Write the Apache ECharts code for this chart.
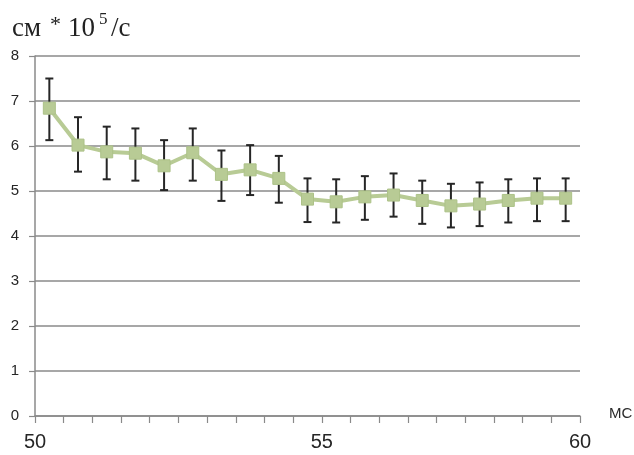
<!DOCTYPE html>
<html>
<head>
<meta charset="utf-8">
<script src="https://cdn.jsdelivr.net/npm/echarts@6/dist/echarts.min.js"></script>
<style>
  html, body { margin: 0; padding: 0; background: #ffffff; }
  #chart { width: 634px; height: 455px; }
</style>
</head>
<body>
<div id="chart"></div>
<script>
// Measurement points (one per time bin across 50–60 мс)
const pointIds = ['1','2','3','4','5','6','7','8','9','10','11','12','13','14','15','16','17','18','19'];
// Mean velocity, см·10^5/с
const meanValues = [6.84, 6.02, 5.87, 5.84, 5.56, 5.85, 5.37, 5.47, 5.28, 4.82, 4.76, 4.87, 4.91, 4.79, 4.67, 4.71, 4.79, 4.84, 4.84];
// Error bar bounds
const upperValues = [7.50, 6.64, 6.43, 6.39, 6.13, 6.39, 5.90, 6.02, 5.78, 5.28, 5.26, 5.33, 5.39, 5.23, 5.16, 5.19, 5.26, 5.28, 5.28];
const lowerValues = [6.13, 5.43, 5.26, 5.23, 5.02, 5.23, 4.78, 4.91, 4.74, 4.31, 4.30, 4.36, 4.43, 4.27, 4.19, 4.22, 4.30, 4.33, 4.33];
// Time labels on the tick boundaries (20 boundaries for 19 bins)
const xTickLabels = ['50','','','','','','','','','','55','','','','','','','','','60'];
const yTicks = [0, 1, 2, 3, 4, 5, 6, 7, 8];

const chart = echarts.init(document.getElementById('chart'));

const errorData = pointIds.map((id, i) => [i, lowerValues[i], upperValues[i]]);
const serif = 'Liberation Serif, DejaVu Serif, serif';

chart.setOption({
  animation: false,
  backgroundColor: '#ffffff',
  grid: { left: 35, right: 54, top: 56, bottom: 39 },
  xAxis: [
    {
      type: 'category',
      data: pointIds,
      boundaryGap: true,
      axisLine: { show: true, lineStyle: { color: '#8a8a8a', width: 1.5 } },
      axisTick: { show: true, interval: 0, length: 7, lineStyle: { color: '#8a8a8a', width: 1.2 } },
      axisLabel: { show: false },
      splitLine: { show: false }
    },
    {
      type: 'value',
      min: 0,
      max: xTickLabels.length - 1,
      interval: 1,
      position: 'bottom',
      axisLine: { show: false },
      axisTick: { show: false },
      splitLine: { show: false },
      axisLabel: {
        show: true,
        margin: 16,
        fontFamily: 'Liberation Sans, Arial, sans-serif',
        fontSize: 20,
        color: '#262626',
        showMinLabel: true,
        showMaxLabel: true,
        formatter: (v) => xTickLabels[Math.round(v)] || ''
      }
    }
  ],
  yAxis: {
    type: 'value',
    min: yTicks[0],
    max: yTicks[yTicks.length - 1],
    interval: 1,
    axisLine: { show: true, lineStyle: { color: '#8a8a8a', width: 1.5 } },
    axisTick: { show: true, length: 6, lineStyle: { color: '#8a8a8a', width: 1.2 } },
    axisLabel: {
      margin: 16,
      fontFamily: 'Liberation Sans, Arial, sans-serif',
      fontSize: 15,
      color: '#262626'
    },
    splitLine: { show: true, lineStyle: { color: '#8a8a8a', width: 1.5 } }
  },
  series: [
    {
      type: 'custom',
      xAxisIndex: 0,
      z: 2,
      data: errorData,
      encode: { x: 0, y: [1, 2] },
      renderItem: function (params, api) {
        const idx = api.value(0);
        const lo = api.coord([idx, api.value(1)]);
        const hi = api.coord([idx, api.value(2)]);
        const cap = 4;
        const style = { stroke: '#262626', lineWidth: 2 };
        return {
          type: 'group',
          children: [
            { type: 'line', shape: { x1: lo[0], y1: lo[1], x2: hi[0], y2: hi[1] }, style: style },
            { type: 'line', shape: { x1: hi[0] - cap, y1: hi[1], x2: hi[0] + cap, y2: hi[1] }, style: style },
            { type: 'line', shape: { x1: lo[0] - cap, y1: lo[1], x2: lo[0] + cap, y2: lo[1] }, style: style }
          ]
        };
      }
    },
    {
      type: 'line',
      xAxisIndex: 0,
      z: 3,
      data: meanValues,
      symbol: 'rect',
      symbolSize: 12,
      lineStyle: { color: '#b8cb95', width: 4 },
      itemStyle: { color: '#b8cb95', borderColor: '#adc288', borderWidth: 1 }
    }
  ],
  graphic: [
    { type: 'text', left: 12, top: 15, style: { text: 'см', fontFamily: serif, fontSize: 27, fill: '#222' } },
    { type: 'text', left: 50, top: 14, style: { text: '*', fontFamily: serif, fontSize: 22, fill: '#222' } },
    { type: 'text', left: 68, top: 15, style: { text: '10', fontFamily: serif, fontSize: 27, fill: '#222' } },
    { type: 'text', left: 99, top: 11, style: { text: '5', fontFamily: serif, fontSize: 17, fill: '#222' } },
    { type: 'text', left: 111, top: 15, style: { text: '/с', fontFamily: serif, fontSize: 27, fill: '#222' } },
    {
      type: 'text', left: 609, top: 406,
      style: { text: 'МС', fontFamily: 'Liberation Sans, Arial, sans-serif', fontSize: 15, fill: '#2a2a2a' }
    }
  ]
});
</script>
</body>
</html>
